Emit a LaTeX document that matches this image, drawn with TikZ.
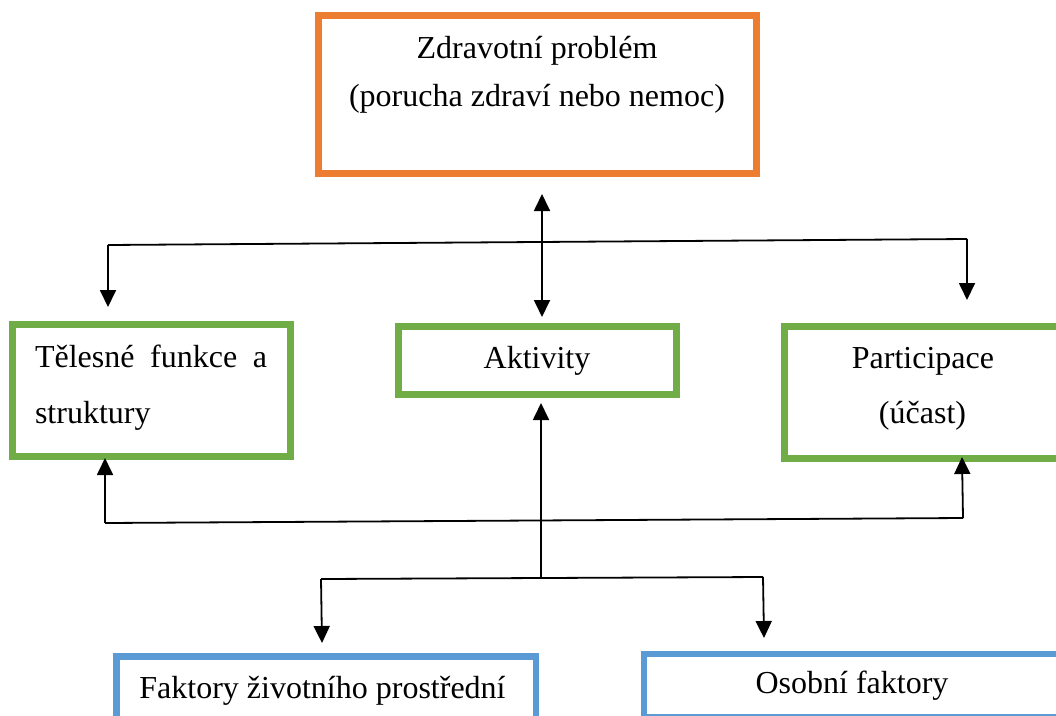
\documentclass[tikz,border=0pt]{standalone}
\usepackage{fontspec}
\setmainfont{Liberation Serif}
\usetikzlibrary{arrows.meta}
\definecolor{boxorange}{HTML}{ED7D31}
\definecolor{boxgreen}{HTML}{70AD47}
\definecolor{boxblue}{HTML}{5B9BD5}
\begin{document}
\begin{tikzpicture}[x=1pt,y=-1pt,
  boxframe/.style={draw=#1, line width=7pt, rectangle, inner sep=0pt, outer sep=0pt},
  txt/.style={inner sep=0pt, outer sep=0pt, anchor=base, font=\fontsize{32}{36}\selectfont},
  link/.style={line width=1.8pt, draw=black},
  arrowline/.style={link, -{Triangle[length=17pt,width=16pt]}},
  twoway/.style={link, {Triangle[length=17pt,width=16pt]}-{Triangle[length=17pt,width=16pt]}},
]
% page area
\clip (0,0) rectangle (1056,715);
\fill[white] (0,0) rectangle (1056,715);

% boxes
\node[boxframe=boxorange, minimum width=438pt, minimum height=158pt] (health) at (537.5,94.5) {};
\node[boxframe=boxgreen, minimum width=278pt, minimum height=132pt] (body) at (151,390) {};
\node[boxframe=boxgreen, minimum width=278pt, minimum height=68pt] (activ) at (537,360) {};
\node[boxframe=boxgreen, minimum width=277pt, minimum height=132pt] (partic) at (923,392) {};
\node[boxframe=boxblue, line width=6.5pt, minimum width=419.5pt, minimum height=74pt] (envir) at (326.25,693.5) {};
\node[boxframe=boxblue, line width=6.5pt, minimum width=416pt, minimum height=63pt] (person) at (852,685.5) {};

% texts
\node[txt] (healthA) at (537,58) {Zdravotní problém};
\node[txt] (healthB) at (537,106) {(porucha zdraví nebo nemoc)};
\node[txt, anchor=base west] (bodyA) at (35,367) {\makebox[232pt][s]{Tělesné funkce a}};
\node[txt, anchor=base west] (bodyB) at (35,423) {struktury};
\node[txt] (activT) at (537,368) {Aktivity};
\node[txt] (particA) at (923,368) {Participace};
\node[txt] (particB) at (922.5,423) {(účast)};
\node[txt] (envirT) at (322.5,698) {Faktory životního prostřední};
\node[txt] (personT) at (852,693) {Osobní faktory};

% junction points
\coordinate (upL) at (108,245);
\coordinate (upR) at (967,239);
\coordinate (upLtip) at (108,307);
\coordinate (upRtip) at (967,300);
\coordinate (midTop) at (542,194);
\coordinate (midBot) at (542,317);
\coordinate (loL) at (105,523);
\coordinate (loR) at (963,518);
\coordinate (loLtip) at (105,458);
\coordinate (loRtip) at (962,457);
\coordinate (stemBot) at (541,577);
\coordinate (stemTip) at (541,403);
\coordinate (btL) at (321,579);
\coordinate (btR) at (763,577);
\coordinate (btLtip) at (322,643);
\coordinate (btRtip) at (764,638);

% upper bus: health problem to the three components
\draw[link] (upL) -- (upR);
\draw[arrowline] (upL) -- (upLtip);
\draw[arrowline] (upR) -- (upRtip);
\draw[twoway] (midTop) -- (midBot);

% lower bus: back to body functions and participation
\draw[link] (loL) -- (loR);
\draw[arrowline] (loL) -- (loLtip);
\draw[arrowline] (loR) -- (loRtip);

% stem from the contextual factors up to activities
\draw[arrowline] (stemBot) -- (stemTip);

% bottom bus: contextual factors
\draw[link] (btL) -- (btR);
\draw[arrowline] (btL) -- (btLtip);
\draw[arrowline] (btR) -- (btRtip);
\end{tikzpicture}
\end{document}
